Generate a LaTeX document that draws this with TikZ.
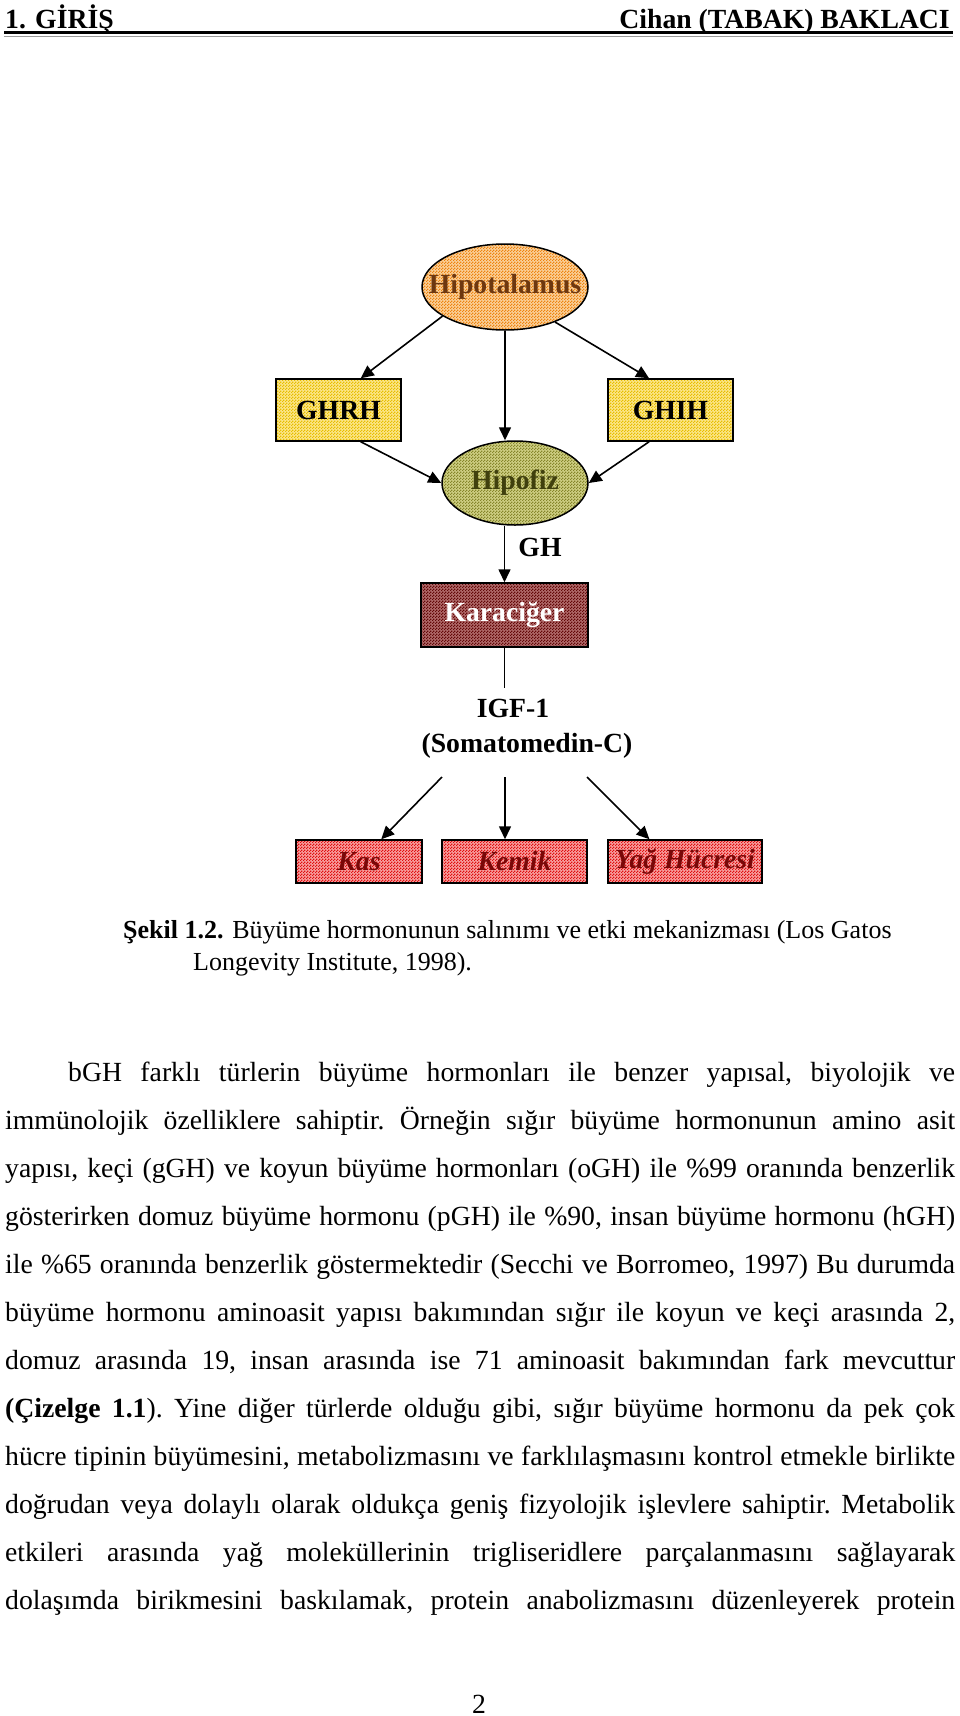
\documentclass[tikz,border=0pt]{standalone}
\usepackage{fontspec}
\setmainfont{Liberation Serif}
\usetikzlibrary{positioning,shapes.geometric,arrows.meta,patterns}

\pgfdeclarepatternformonly{incekare}{\pgfqpoint{0pt}{0pt}}{\pgfqpoint{3pt}{3pt}}{\pgfqpoint{3pt}{3pt}}{%
  \pgfpathrectangle{\pgfpointorigin}{\pgfqpoint{1.5pt}{1.5pt}}%
  \pgfpathrectangle{\pgfqpoint{1.5pt}{1.5pt}}{\pgfqpoint{1.5pt}{1.5pt}}%
  \pgfusepath{fill}}

\definecolor{turuncu}{HTML}{EE8410}
\definecolor{turuncuacik}{HTML}{FAD09A}
\definecolor{turuncuyazi}{HTML}{6E3810}
\definecolor{sari}{HTML}{E8BE00}
\definecolor{sariacik}{HTML}{FBE68A}
\definecolor{zeytin}{HTML}{86862A}
\definecolor{zeytinacik}{HTML}{CFCF84}
\definecolor{zeytinyazi}{HTML}{40400E}
\definecolor{bordo}{HTML}{640808}
\definecolor{bordoacik}{HTML}{B06A6A}
\definecolor{kirmizi}{HTML}{E01010}
\definecolor{kirmiziacik}{HTML}{F7A0A0}
\definecolor{kirmiziyazi}{HTML}{7A0808}

\newcommand\govdeyazi{\fontsize{27.7}{48}\selectfont}
\newcommand\sekilyazi{\fontsize{27.7}{31.9}\selectfont\bfseries}
\newcommand\altyazi{\fontsize{26}{31.9}\selectfont}

\begin{document}
\begin{tikzpicture}[x=1pt, y=-1pt,
  organ/.style={ellipse, draw, line width=1.5pt, inner sep=0pt, font=\sekilyazi},
  kutu/.style={rectangle, draw, line width=1.5pt, inner sep=0pt, font=\sekilyazi},
  desen/.style 2 args={preaction={fill=#1}, pattern=incekare, pattern color=#2},
  ok/.style={line width=1.6pt, -{Triangle[length=13pt,width=12pt]}}]
\useasboundingbox (0,0) rectangle (960,1716);

\node[anchor=base west, font=\sekilyazi, inner sep=0pt] (bolum) at (5,28) {1. GİRİŞ};
\node[anchor=base east, font=\sekilyazi, inner sep=0pt] (yazar) at (950,28) {Cihan (TABAK) BAKLACI};
\draw[line width=2.5pt] (4,32.5) -- (953,32.5);
\draw[line width=0.8pt, black!40] (4,36) -- (953,36);

\node[organ, desen={turuncuacik}{turuncu}, text=turuncuyazi, minimum width=166pt, minimum height=86pt] (hipotalamus) at (505,287) {\makebox[0pt]{Hipotalamus}};
\node[kutu, desen={sariacik}{sari}, minimum width=125pt, minimum height=62pt] (ghrh) at (338.5,410) {GHRH};
\node[kutu, desen={sariacik}{sari}, minimum width=125pt, minimum height=62pt] (ghih) at (670.5,410) {GHIH};
\node[organ, desen={zeytinacik}{zeytin}, text=zeytinyazi, minimum width=146pt, minimum height=84pt] (hipofiz) at (515,483) {Hipofiz};
\node[anchor=base, font=\sekilyazi, inner sep=0pt] (gh) at (540,556) {GH};
\node[kutu, desen={bordoacik}{bordo}, text=white, minimum width=167pt, minimum height=64pt] (karaciger) at (504.5,615) {Karaciğer};
\coordinate (igfust) at (504.5,688);
\node[anchor=base, font=\sekilyazi, inner sep=0pt] (igf) at (513,717) {IGF-1};
\node[anchor=base, font=\sekilyazi, inner sep=0pt] (somatomedin) at (527,752) {(Somatomedin-C)};
\coordinate (solcik) at (442,777);
\coordinate (ortacik) at (505,777);
\coordinate (sagcik) at (587,777);
\node[kutu, desen={kirmiziacik}{kirmizi}, text=kirmiziyazi, font=\sekilyazi\itshape, minimum width=126pt, minimum height=43pt] (kas) at (359,861.5) {Kas};
\node[kutu, desen={kirmiziacik}{kirmizi}, text=kirmiziyazi, font=\sekilyazi\itshape, minimum width=145pt, minimum height=43pt] (kemik) at (514.5,861.5) {Kemik};
\node[kutu, desen={kirmiziacik}{kirmizi}, text=kirmiziyazi, font=\sekilyazi\itshape, minimum width=154pt, minimum height=43pt] (yag) at (685,861.5) {Yağ Hücresi};

\draw[ok] (hipotalamus.205) -- (ghrh.55);
\draw[ok] (hipotalamus.-35) -- (ghih.124);
\draw[ok] (hipotalamus.south) -- (hipotalamus.south |- hipofiz.north);
\draw[ok] (ghrh.-55) -- (hipofiz.west);
\draw[ok] (ghih.-124) -- (hipofiz.east);
\draw[ok] (hipofiz.south -| karaciger.north) -- (karaciger.north);
\draw[line width=1.6pt] (karaciger.south) -- (igfust);
\draw[ok] (solcik) -- (kas.45);
\draw[ok] (ortacik) -- (ortacik |- kemik.north);
\draw[ok] (sagcik) -- (yag.148);

\node[anchor=base west, font=\altyazi, inner sep=0pt] (sekil1) at (123,938) {\textbf{Şekil 1.2.} Büyüme hormonunun salınımı ve etki mekanizması (Los Gatos};
\node[anchor=base west, font=\altyazi, inner sep=0pt] (sekil2) at (193,970) {Longevity Institute, 1998).};

\node[anchor=base west, text width=950pt, align=justify, inner sep=0pt, font=\govdeyazi\frenchspacing] (metin) at (5,1081) {%
\hspace*{63pt}bGH farklı türlerin büyüme hormonları ile benzer yapısal, biyolojik ve\linebreak
immünolojik özelliklere sahiptir. Örneğin sığır büyüme hormonunun amino asit\linebreak
yapısı, keçi (gGH) ve koyun büyüme hormonları (oGH) ile \%99 oranında benzerlik\linebreak
gösterirken domuz büyüme hormonu (pGH) ile \%90, insan büyüme hormonu (hGH)\linebreak
ile \%65 oranında benzerlik göstermektedir (Secchi ve Borromeo, 1997) Bu durumda\linebreak
büyüme hormonu aminoasit yapısı bakımından sığır ile koyun ve keçi arasında 2,\linebreak
domuz arasında 19, insan arasında ise 71 aminoasit bakımından fark mevcuttur\linebreak
\textbf{(Çizelge 1.1}). Yine diğer türlerde olduğu gibi, sığır büyüme hormonu da pek çok\linebreak
hücre tipinin büyümesini, metabolizmasını ve farklılaşmasını kontrol etmekle birlikte\linebreak
doğrudan veya dolaylı olarak oldukça geniş fizyolojik işlevlere sahiptir. Metabolik\linebreak
etkileri arasında yağ moleküllerinin trigliseridlere parçalanmasını sağlayarak\linebreak
dolaşımda birikmesini baskılamak, protein anabolizmasını düzenleyerek protein{\parfillskip=0pt\par}};

\node[anchor=base, font=\govdeyazi, inner sep=0pt] (sayfa) at (479,1713) {2};
\end{tikzpicture}
\end{document}
